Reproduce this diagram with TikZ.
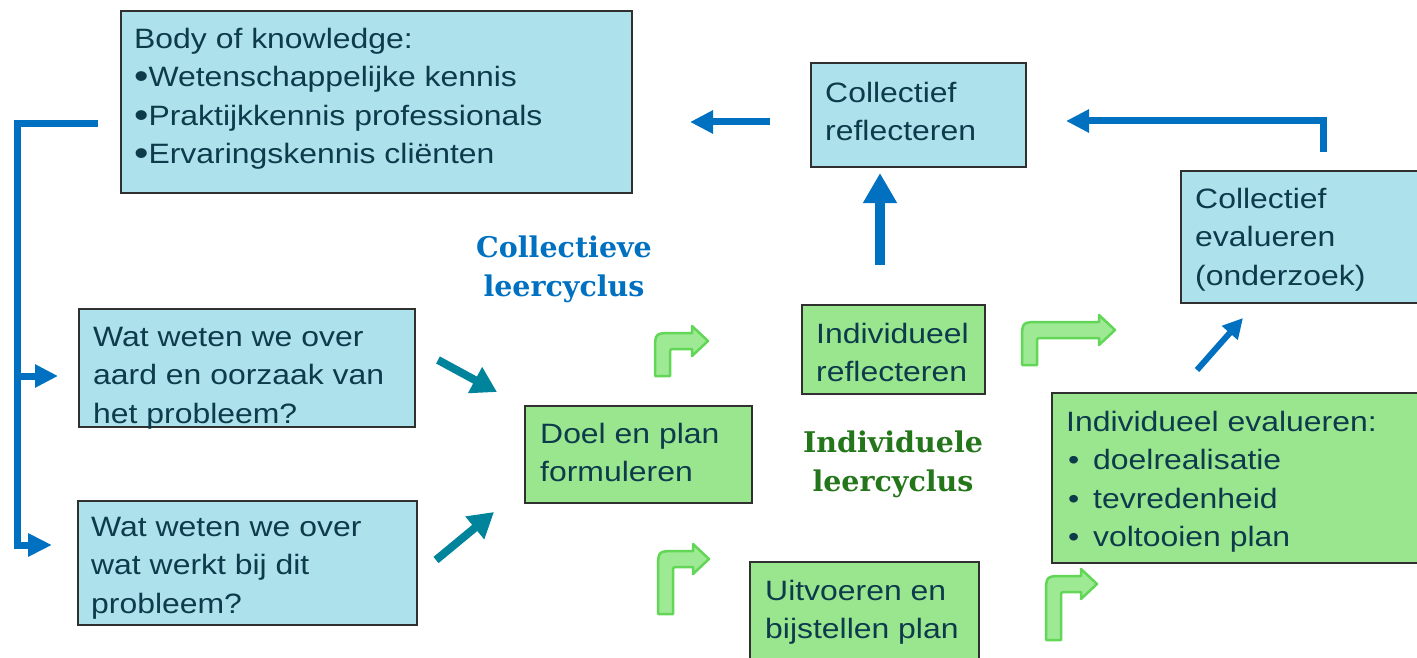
\documentclass[tikz,border=0pt]{standalone}
\usepackage{fontspec}
\setmainfont{Liberation Sans}[FakeStretch=1.14]
\newfontfamily\titlefont{DejaVu Serif}
\usetikzlibrary{arrows.meta}

\definecolor{boxblue}{HTML}{ADE1EC}
\definecolor{boxgreen}{HTML}{99E68E}
\definecolor{boxline}{HTML}{303030}
\definecolor{inktext}{HTML}{0E3B4C}
\definecolor{arrowblue}{HTML}{0070C0}
\definecolor{arrowteal}{HTML}{00849C}
\definecolor{titleblue}{HTML}{0070C0}
\definecolor{titlegreen}{HTML}{24761A}
\definecolor{bentfill}{HTML}{9EE994}
\definecolor{bentline}{HTML}{62D657}

% bent green arrow: shaft left x, bottom y, top y, tip x
\newcommand{\bentarrow}[4]{%
  \filldraw[bent] (#1,#2) -- (#1,#3+18) .. controls (#1,#3) .. (#1+18,#3)
    -- (#4-16,#3) -- (#4-16,#3-7) -- (#4,#3+8) -- (#4-16,#3+23)
    -- (#4-16,#3+16) -- (#1+20,#3+16) .. controls (#1+15,#3+16) .. (#1+15,#3+21)
    -- (#1+15,#2) -- cycle;}
\newcommand{\bigbul}{\raisebox{-2pt}{\fontsize{36}{36}\selectfont•}}

\begin{document}
\begin{tikzpicture}
  [x=1pt,y=-1pt,
   box/.style={draw=boxline,line width=2pt,anchor=north west,inner sep=0pt},
   bluebox/.style={box,fill=boxblue},
   greenbox/.style={box,fill=boxgreen},
   txt/.style={anchor=north west,inner sep=0pt,align=left,text=inktext,
     font=\fontsize{28}{38.5}\selectfont},
   cycletitle/.style={anchor=north,inner sep=0pt,align=center,
     font=\titlefont\bfseries\fontsize{28.5}{39}\selectfont},
   bent/.style={fill=bentfill,draw=bentline,line width=2.5pt,line join=round},
   bluearrow/.style={draw=arrowblue,line width=7pt,-{Triangle[length=23pt,width=22pt]}},
   tealarrow/.style={draw=arrowteal,line width=8pt,-{Triangle[length=25pt,width=28pt]}}]

  \clip (0,0) rectangle (1417,658);

  % boxes
  \node[bluebox,minimum width=511,minimum height=182] (bok) at (120,10) {};
  \node[bluebox,minimum width=215,minimum height=104] (crefl) at (810,62) {};
  \node[bluebox,minimum width=240,minimum height=132] (ceval) at (1180,170) {};
  \node[bluebox,minimum width=336,minimum height=118] (wat1) at (78,308) {};
  \node[bluebox,minimum width=339,minimum height=124] (wat2) at (77,500) {};
  \node[greenbox,minimum width=227,minimum height=97] (doel) at (524,405) {};
  \node[greenbox,minimum width=183,minimum height=89] (irefl) at (801,304) {};
  \node[greenbox,minimum width=369,minimum height=170] (ieval) at (1051,392) {};
  \node[greenbox,minimum width=229,minimum height=110] (uitv) at (749,561) {};

  % texts
  \node[txt] (bokT) at (134,28) {Body of knowledge:\\\bigbul Wetenschappelijke kennis\\
    \bigbul Praktijkkennis professionals\\\bigbul Ervaringskennis cliënten};
  \node[txt] (creflT) at (825,82) {Collectief\\reflecteren};
  \node[txt] (cevalT) at (1195,188) {Collectief\\evalueren\\(onderzoek)};
  \node[txt] (wat1T) at (93,327) {Wat weten we over\\aard en oorzaak van\\het probleem?};
  \node[txt] (wat2T) at (91,517) {Wat weten we over\\wat werkt bij dit\\probleem?};
  \node[txt] (doelT) at (540,423) {Doel en plan\\formuleren};
  \node[txt] (ireflT) at (816,323) {Individueel\\reflecteren};
  \node[txt] (ievalT) at (1066,411) {Individueel evalueren:\\
    \makebox[27pt][l]{\hspace{2pt}•}doelrealisatie\\
    \makebox[27pt][l]{\hspace{2pt}•}tevredenheid\\
    \makebox[27pt][l]{\hspace{2pt}•}voltooien plan};
  \node[txt] (uitvT) at (765,580) {Uitvoeren en\\bijstellen plan};

  \node[cycletitle,text=titleblue] (coltitle) at (564,236) {Collectieve\\leercyclus};
  \node[cycletitle,text=titlegreen] (indtitle) at (893,431) {Individuele\\leercyclus};

  % green cycle arrows
  \bentarrow{655}{376}{333}{708}
  \bentarrow{1022}{365}{322}{1115}
  \bentarrow{658}{614}{551}{709}
  \bentarrow{1046}{640}{576}{1097}

  % blue arrows
  \coordinate (creflOut) at (770,122);
  \coordinate (bokIn) at (690,122);
  \coordinate (cevalOut) at (1323,152);
  \coordinate (creflIn) at (1066,121);
  \coordinate (ireflOut) at (880,265);
  \coordinate (ireflUp) at (880,173);
  \coordinate (ievalOut) at (1197,370);
  \coordinate (cevalIn) at (1243,318);
  \draw[bluearrow] (creflOut) -- (bokIn);
  \draw[bluearrow] (cevalOut) |- (creflIn);
  \draw[bluearrow,line width=10pt,-{Triangle[length=30pt,width=32pt]}] (ireflOut) -- (ireflUp);
  \draw[bluearrow,line width=6pt,-{Triangle[length=20pt,width=20pt]}] (ievalOut) -- (cevalIn);

  % bracket from body of knowledge
  \coordinate (bokOut) at (98,124);
  \coordinate (brBend) at (17,545);
  \coordinate (brMid) at (17,376);
  \coordinate (wat1In) at (58,376);
  \coordinate (wat2In) at (52,545);
  \draw[bluearrow,-{Triangle[length=24pt,width=22pt]}] (bokOut) -| (brBend) -- (wat2In);
  \draw[bluearrow] (brMid) -- (wat1In);

  % teal arrows to doel
  \coordinate (wat1Out) at (438,360);
  \coordinate (doelIn1) at (497,392);
  \coordinate (wat2Out) at (436,560);
  \coordinate (doelIn2) at (494,512);
  \draw[tealarrow] (wat1Out) -- (doelIn1);
  \draw[tealarrow] (wat2Out) -- (doelIn2);
\end{tikzpicture}
\end{document}
